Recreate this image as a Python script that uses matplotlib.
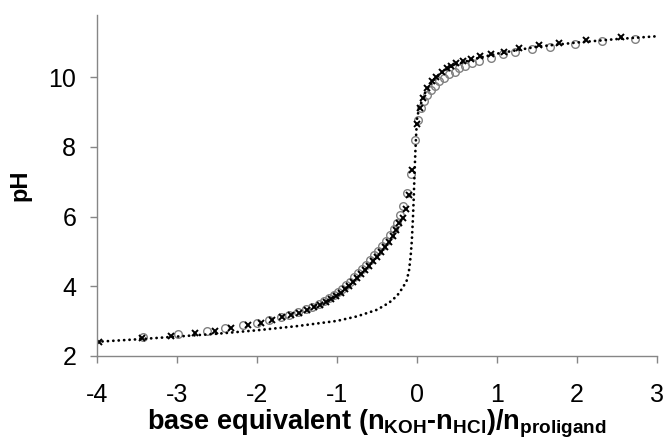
import matplotlib
matplotlib.use("Agg")
import matplotlib.pyplot as plt

plt.rcParams['font.family'] = ['Liberation Sans', 'DejaVu Sans']
plt.rcParams['axes.unicode_minus'] = False
plt.rcParams['mathtext.fontset'] = 'custom'
plt.rcParams['mathtext.bf'] = 'Liberation Sans:bold'
plt.rcParams['mathtext.rm'] = 'Liberation Sans'

# calculated curve (dotted)
calc_x = [-4.0, -3.5, -3.0, -2.5, -2.0, -1.5, -1.0, -0.75, -0.5, -0.35, -0.25,
          -0.18, -0.13, -0.10, -0.08, -0.065, -0.05, -0.04, -0.03, -0.02, -0.01,
          0.0, 0.02, 0.05, 0.1, 0.15, 0.2, 0.3, 0.4, 0.5, 0.7, 1.0, 1.5, 2.0,
          2.5, 3.0]
calc_ph = [2.40, 2.47, 2.55, 2.63, 2.73, 2.85, 3.00, 3.13, 3.32, 3.52, 3.72,
           3.95, 4.15, 4.45, 4.85, 5.30, 6.00, 6.60, 7.30, 7.90, 8.40,
           8.80, 9.05, 9.25, 9.55, 9.75, 9.90, 10.12, 10.27, 10.38, 10.52,
           10.68, 10.88, 11.00, 11.10, 11.18]

# measured, series 1 (open circles)
circ_x = [-3.43, -2.99, -2.62, -2.40, -2.17, -2.00, -1.85, -1.70, -1.60, -1.49,
          -1.39, -1.31, -1.23, -1.16, -1.10, -1.04, -0.99, -0.94, -0.89, -0.84,
          -0.79, -0.74, -0.69, -0.64, -0.59, -0.54, -0.49, -0.44, -0.39, -0.34,
          -0.29, -0.25, -0.21, -0.17, -0.12, -0.08, -0.03, 0.015, 0.055, 0.09,
          0.13, 0.17, 0.22, 0.28, 0.34, 0.40, 0.47, 0.53, 0.60, 0.69, 0.78,
          0.93, 1.07, 1.23, 1.44, 1.66, 1.98, 2.31, 2.72]
circ_ph = [2.54, 2.62, 2.71, 2.79, 2.88, 2.95, 3.03, 3.10, 3.17, 3.25,
           3.33, 3.41, 3.49, 3.57, 3.65, 3.74, 3.83, 3.92, 4.02, 4.13,
           4.25, 4.37, 4.50, 4.62, 4.75, 4.88, 5.02, 5.16, 5.31, 5.47,
           5.64, 5.82, 6.03, 6.30, 6.67, 7.21, 8.21, 8.78, 9.11, 9.33,
           9.50, 9.64, 9.76, 9.88, 9.99, 10.09, 10.16, 10.26, 10.33, 10.40, 10.48,
           10.56, 10.66, 10.73, 10.80, 10.88, 10.95, 11.03, 11.10]

# measured, series 2 (crosses)
cross_x = [-3.97, -3.44, -3.08, -2.78, -2.53, -2.32, -2.11, -1.95, -1.81, -1.69,
           -1.58, -1.48, -1.38, -1.29, -1.21, -1.14, -1.07, -1.01, -0.95, -0.90,
           -0.85, -0.80, -0.75, -0.70, -0.65, -0.60, -0.55, -0.50, -0.45, -0.40,
           -0.35, -0.30, -0.26, -0.22, -0.18, -0.14, -0.10, -0.06, 0.0, 0.04,
           0.08, 0.13, 0.19, 0.24, 0.31, 0.37, 0.42, 0.49, 0.58, 0.68, 0.79,
           0.92, 1.09, 1.27, 1.53, 1.78, 2.11, 2.55]
cross_ph = [2.40, 2.50, 2.57, 2.64, 2.71, 2.80, 2.88, 2.95, 3.04, 3.11,
            3.17, 3.24, 3.31, 3.39, 3.47, 3.55, 3.63, 3.72, 3.81, 3.91,
            4.01, 4.12, 4.23, 4.35, 4.47, 4.59, 4.71, 4.84, 4.98, 5.12,
            5.27, 5.43, 5.60, 5.80, 5.97, 6.21, 6.62, 7.35, 8.66, 9.13,
            9.42, 9.69, 9.88, 10.02, 10.16, 10.26, 10.33, 10.40, 10.47, 10.54, 10.61,
            10.67, 10.73, 10.83, 10.92, 10.99, 11.07, 11.15]

fig = plt.figure(figsize=(6.67, 4.45), dpi=100)
ax = fig.add_axes([0.1455, 0.2007, 0.8395, 0.7663])

ax.plot(circ_x, circ_ph, 'o', ms=5.5, mfc='none', mec='#808080', mew=1.0)
ax.plot(cross_x, cross_ph, 'x', ms=5, color='black', mew=1.4)
ax.plot(calc_x, calc_ph, color='black', lw=2.0, linestyle=(0, (0.05, 1.9)),
        dash_capstyle='round')

ax.set_xlim(-4, 3)
ax.set_ylim(2, 11.8)
ax.set_xticks(range(-4, 4))
ax.set_yticks([2, 4, 6, 8, 10])

for s in ['top', 'right']:
    ax.spines[s].set_visible(False)
for s in ['left', 'bottom']:
    ax.spines[s].set_color('#868686')
    ax.spines[s].set_linewidth(1.0)

ax.tick_params(axis='both', labelsize=18, length=5, width=1, color='#868686')
ax.tick_params(axis='x', pad=15)
ax.tick_params(axis='y', pad=10)

ax.set_xlabel(r'base equivalent (n$_{\mathbf{KOH}}$-n$_{\mathbf{HCl}}$)/n$_{\mathbf{proligand}}$',
              fontsize=19.5, fontweight='bold', labelpad=0)
ax.set_ylabel('pH', fontsize=17, fontweight='bold', labelpad=12)

fig.savefig('out.png', dpi=100)
